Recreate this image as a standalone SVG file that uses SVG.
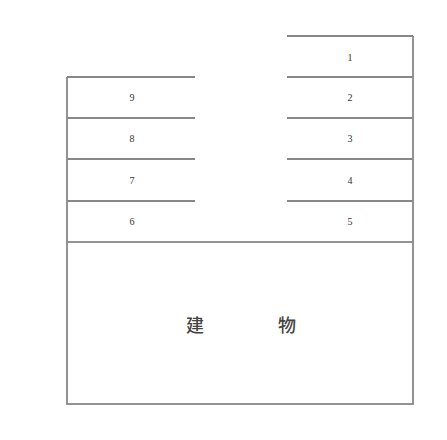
<svg xmlns="http://www.w3.org/2000/svg" width="447" height="440" viewBox="0 0 447 440">
<style>
.ln{stroke:#888;stroke-width:1.8;fill:none}
.num{font-family:"Liberation Serif",serif;font-size:10px;fill:#333;text-anchor:middle}
.big{font-family:"Noto Sans CJK SC",sans-serif;font-size:18px;font-weight:500;fill:#444;text-anchor:middle}
</style>
<rect width="447" height="440" fill="#fff"/>
<g id="building">
<rect class="ln" x="67" y="242" width="346" height="162"/>
<text class="big" x="195" y="332">建</text>
<text class="big" x="287" y="332">物</text>
</g>
<g id="left-stack">
<path class="ln" d="M67 77V242M67 77H195M67 118H195M67 159H195M67 201H195"/>
<text class="num" x="132" y="101">9</text>
<text class="num" x="132" y="142">8</text>
<text class="num" x="132" y="184">7</text>
<text class="num" x="132" y="225">6</text>
</g>
<g id="right-stack">
<path class="ln" d="M413 36V242M287 36H413M287 77H413M287 118H413M287 159H413M287 201H413"/>
<text class="num" x="350" y="61">1</text>
<text class="num" x="350" y="101">2</text>
<text class="num" x="350" y="142">3</text>
<text class="num" x="350" y="184">4</text>
<text class="num" x="350" y="225">5</text>
</g>
</svg>
